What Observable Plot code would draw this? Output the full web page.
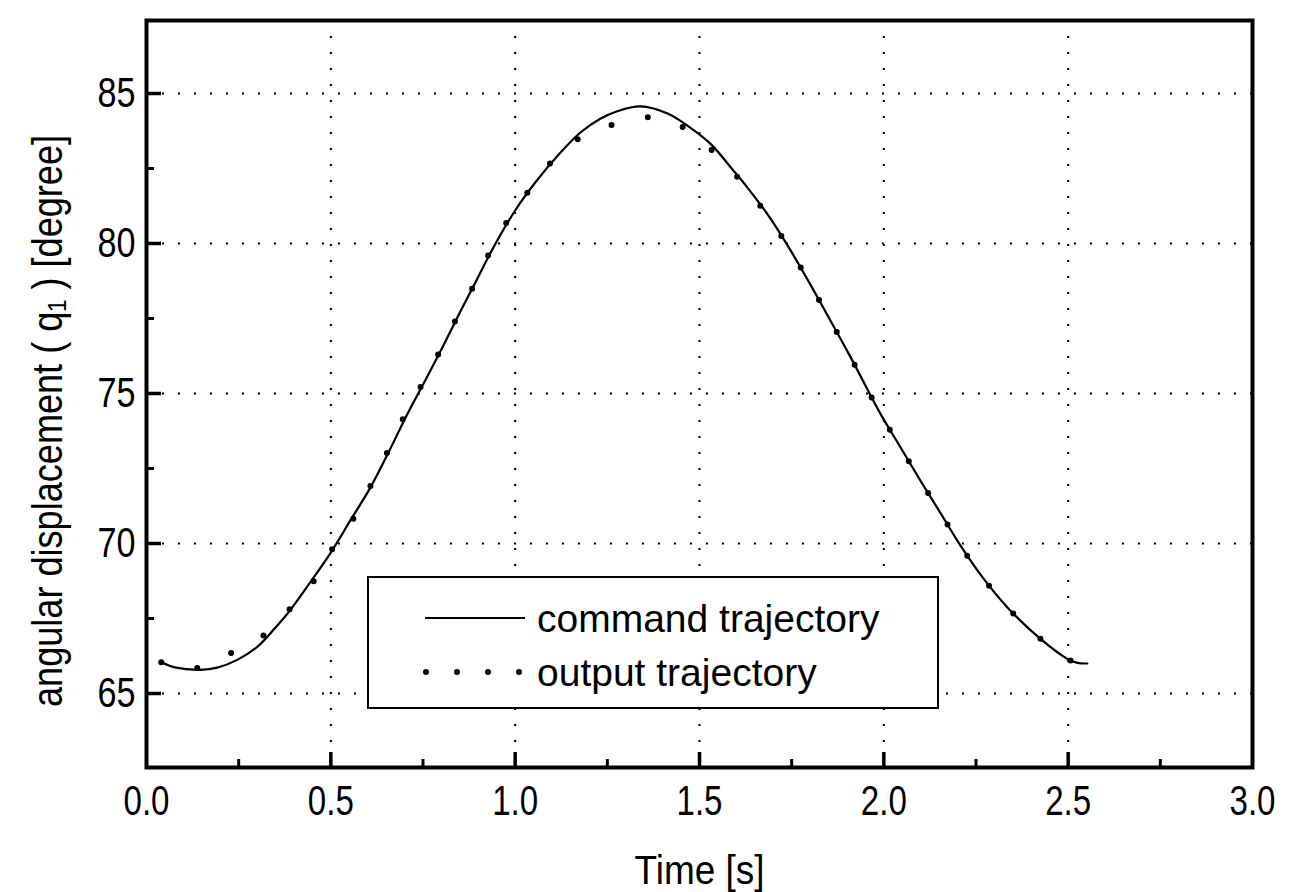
<!DOCTYPE html>
<html><head><meta charset="utf-8">
<script src="https://cdn.jsdelivr.net/npm/d3@7"></script>
<script src="https://cdn.jsdelivr.net/npm/@observablehq/plot@0.6"></script>
<style>
body{margin:0;background:#fff;}
#wrap{position:relative;width:1306px;height:892px;}
#legend{position:absolute;left:367px;top:576px;width:572px;height:133px;box-sizing:border-box;border:2px solid #000;background:#fff;}
#legend text{font-family:"Liberation Sans",Arial,sans-serif;font-size:39px;fill:#000;}
</style></head><body><div id="wrap"></div>
<script>
// command trajectory (time [s], angle [degree])
const commandT = [0.040,0.080,0.146,0.192,0.246,0.300,0.350,0.390,0.445,0.499,0.553,0.608,0.653,0.707,0.761,0.806,0.852,0.897,0.938,1.000,1.055,1.123,1.177,1.231,1.277,1.340,1.412,1.467,1.530,1.592,1.629,1.693,1.747,1.810,1.855,1.905,1.950,1.991,2.045,2.099,2.158,2.208,2.271,2.339,2.425,2.497,2.525,2.552];
const commandY = [66.04,65.86,65.79,65.86,66.12,66.55,67.20,67.78,68.72,69.68,70.77,71.88,72.95,74.30,75.55,76.62,77.75,78.82,79.80,81.10,82.04,83.03,83.70,84.16,84.41,84.57,84.34,83.93,83.32,82.43,81.88,80.82,79.77,78.43,77.43,76.32,75.27,74.32,73.21,72.10,70.93,69.93,68.82,67.82,66.82,66.16,66.02,66.00];
// output trajectory
const outputT = [0.040,0.124,0.214,0.300,0.380,0.449,0.504,0.561,0.608,0.653,0.707,0.761,0.806,0.852,0.897,0.938,0.992,1.055,1.123,1.213,1.299,1.389,1.476,1.557,1.629,1.693,1.747,1.810,1.855,1.905,1.950,1.991,2.045,2.099,2.158,2.208,2.271,2.339,2.425,2.497,2.525,2.552];
const outputY = [66.04,65.82,66.27,66.77,67.71,68.66,69.82,70.82,71.93,73.04,74.43,75.60,76.66,77.77,78.82,79.88,80.99,82.04,83.04,83.77,84.04,84.21,83.71,82.82,81.83,80.77,79.77,78.43,77.43,76.32,75.27,74.32,73.21,72.10,70.93,69.93,68.82,67.82,66.82,66.16,66.02,66.00];

const xTicks = [0,0.5,1.0,1.5,2.0,2.5,3.0];
const xTickLabels = ["0.0","0.5","1.0","1.5","2.0","2.5","3.0"];
const xMinor = [0.25,0.75,1.25,1.75,2.25,2.75];
const yTicks = [65,70,75,80,85];
const yTickLabels = ["65","70","75","80","85"];
const yMinor = [67.5,72.5,77.5,82.5];
const gridX = [0.5,1.0,1.5,2.0,2.5];
const gridY = [65,70,75,80,85];
const xLabel = "Time [s]";
const yLabel = "angular displacement ( q\u2081 ) [degree]";
const legendLabels = ["command trajectory","output trajectory"];

const command = commandT.map((t,i)=>({t, v: commandY[i]}));
const output = outputT.map((t,i)=>({t, v: outputY[i]}));

const W=1306, H=892, mL=146, mR=54, mT=20, mB=125;
const plotW = W-mL-mR, plotH = H-mT-mB;
const font = '"Liberation Sans",Arial,sans-serif';

const chart = Plot.plot({
  width: W, height: H,
  marginLeft: mL, marginRight: mR, marginTop: mT, marginBottom: mB,
  x: {domain: [0,3], axis: null},
  y: {domain: [62.533, 87.433], axis: null},
  style: {background: "#fff", color: "#000", fontFamily: font, overflow: "visible"},
  marks: [
    Plot.ruleX(gridX, {x: d=>d, stroke: "#000", strokeWidth: 2, strokeDasharray: "2,14"}),
    Plot.ruleY(gridY, {y: d=>d, stroke: "#000", strokeWidth: 2, strokeDasharray: "2,14"}),
    Plot.line(command, {x: "t", y: "v", stroke: "#000", strokeWidth: 2.2, curve: "catmull-rom"}),
    Plot.line(output, {x: "t", y: "v", stroke: "#000", strokeWidth: 6, strokeDasharray: "0,37", strokeLinecap: "round", curve: "catmull-rom"}),
    Plot.ruleX(gridX, {x: d=>d, insetTop: plotH-15, stroke: "#000", strokeWidth: 3.5}),
    Plot.ruleX(xMinor, {x: d=>d, insetTop: plotH-8, stroke: "#000", strokeWidth: 3}),
    Plot.ruleY(yTicks, {y: d=>d, insetRight: plotW-15, stroke: "#000", strokeWidth: 3.5}),
    Plot.ruleY(yMinor, {y: d=>d, insetRight: plotW-8, stroke: "#000", strokeWidth: 3}),
    Plot.frame({stroke: "#000", strokeWidth: 4}),
    Plot.text(xTicks, {x: d=>d, text: (d,i)=>xTickLabels[i], frameAnchor: "bottom", dy: 34, fontSize: 43, lineAnchor: "middle", textAnchor: "middle", fill: "#000"}),
    Plot.text(yTicks, {y: d=>d, text: (d,i)=>yTickLabels[i], frameAnchor: "left", dx: -11, fontSize: 42, lineAnchor: "middle", textAnchor: "end", fill: "#000"}),
    Plot.text([xLabel], {text: d=>d, frameAnchor: "bottom", dy: 103, fontSize: 41, lineAnchor: "middle", textAnchor: "middle", fill: "#000"}),
    Plot.text([yLabel], {text: d=>d, frameAnchor: "left", dx: -98, dy: 27, rotate: -90, fontSize: 43, lineAnchor: "middle", textAnchor: "middle", fill: "#000"})
  ]
});
const wrap = document.getElementById("wrap");
wrap.appendChild(chart);

// condensed lettering like the reference
d3.select(chart).selectAll("text").each(function() {
  const s = this.textContent;
  let len = null;
  if (xTickLabels.includes(s)) len = 46;
  else if (yTickLabels.includes(s)) len = 38;
  else if (s === xLabel) len = 130;
  else if (s === yLabel) len = 572;
  if (len) { this.setAttribute("textLength", len); this.setAttribute("lengthAdjust", "spacingAndGlyphs"); }
});

// legend overlay
const leg = document.createElement("div");
leg.id = "legend";
leg.innerHTML = `<svg width="568" height="129" style="position:absolute;left:0;top:0">
  <line x1="56" y1="40" x2="156" y2="40" stroke="#000" stroke-width="2.2"/>
  <line x1="57" y1="94" x2="151" y2="94" stroke="#000" stroke-width="6" stroke-dasharray="0,31" stroke-linecap="round"/>
  <text x="168" y="40" dominant-baseline="central">${legendLabels[0]}</text>
  <text x="168" y="94" dominant-baseline="central">${legendLabels[1]}</text>
</svg>`;
wrap.appendChild(leg);
</script>
</body></html>
